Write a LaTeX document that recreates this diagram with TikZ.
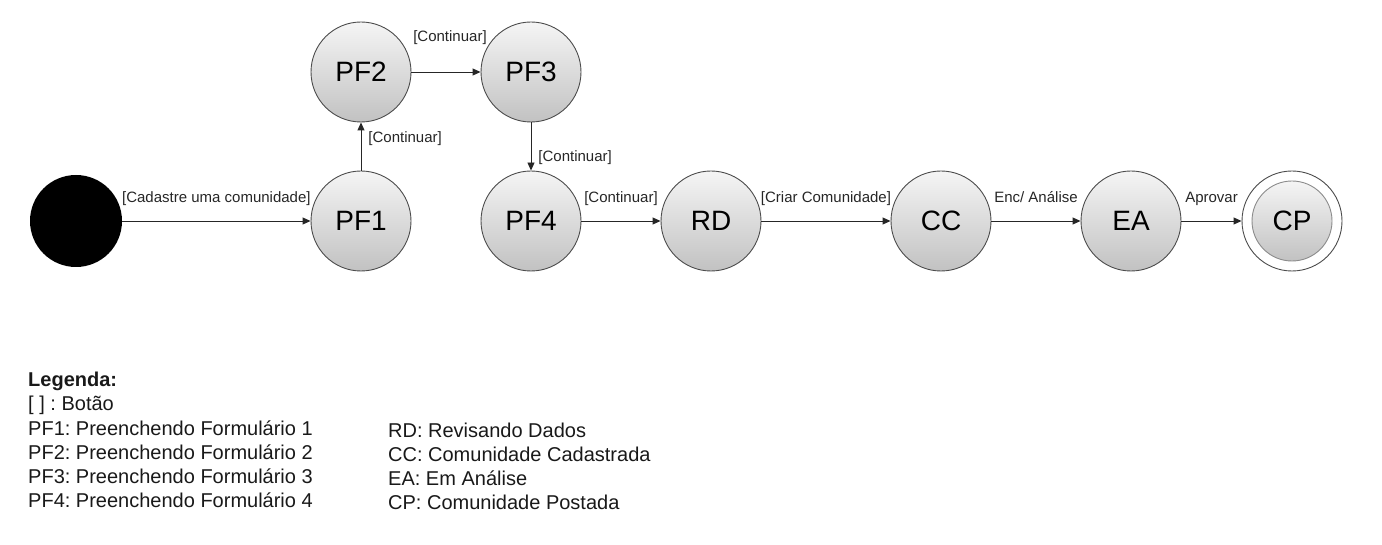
\documentclass[tikz,border=0pt]{standalone}
\usepackage{fontspec}
\setmainfont{Liberation Sans}
\usetikzlibrary{arrows.meta}
\frenchspacing
\begin{document}
\begin{tikzpicture}[x=1pt,y=-1pt,
  state/.style={circle, draw=black!70, line width=0.9pt, minimum size=100pt, inner sep=0pt,
    top color=gray!8, bottom color=gray!48, font=\fontsize{28}{30}\selectfont},
  startnode/.style={circle, fill=black, minimum size=92pt, inner sep=0pt},
  edge/.style={draw=black!85, line width=0.9pt, -{Triangle[length=8pt,width=7pt]}},
  elabel/.style={font=\fontsize{15}{16}\selectfont, inner sep=0pt, text=black!85},
  legend/.style={font=\fontsize{20}{22}\selectfont, anchor=base west, inner sep=0pt, text=black!90}
]
\useasboundingbox (0,0) rectangle (1382,545);

\node[startnode] (s) at (76,221) {};
\node[state] (pf1) at (361,221) {PF1};
\node[state] (pf2) at (361,72) {PF2};
\node[state] (pf3) at (531,72) {PF3};
\node[state] (pf4) at (531,221) {PF4};
\node[state] (rd) at (711,221) {RD};
\node[state] (cc) at (941,221) {CC};
\node[state] (ea) at (1131,221) {EA};
\node[circle, draw=black!70, line width=0.9pt, fill=white, minimum size=100pt, inner sep=0pt] (cpo) at (1292,221) {};
\node[state, minimum size=80pt, draw=black!45] (cp) at (1292,221) {CP};

\draw[edge] (s) -- (pf1) node[elabel, midway, anchor=base, yshift=18pt] {[Cadastre uma comunidade]};
\draw[edge] (pf1) -- (pf2) node[elabel, pos=0.59, anchor=base west, xshift=7pt] {[Continuar]};
\draw[edge] (pf2) -- (pf3) node[elabel, midway, anchor=base, yshift=30pt, xshift=4pt] {[Continuar]};
\draw[edge] (pf3) -- (pf4) node[elabel, pos=0.82, anchor=base west, xshift=7pt] {[Continuar]};
\draw[edge] (pf4) -- (rd) node[elabel, midway, anchor=base, yshift=18pt] {[Continuar]};
\draw[edge] (rd) -- (cc) node[elabel, midway, anchor=base, yshift=18pt] {[Criar Comunidade]};
\draw[edge] (cc) -- (ea) node[elabel, midway, anchor=base, yshift=18pt] {Enc/ Análise};
\draw[edge] (ea) -- (cpo) node[elabel, midway, anchor=base, yshift=18pt] {Aprovar};

\node[legend, font=\fontsize{20}{22}\selectfont\bfseries] (lg) at (28,387) {Legenda:};
\node[legend] (l0) at (28,410) {[ ] : Botão};
\node[legend] (l1) at (28,435) {PF1: Preenchendo Formulário 1};
\node[legend] (l2) at (28,459) {PF2: Preenchendo Formulário 2};
\node[legend] (l3) at (28,483) {PF3: Preenchendo Formulário 3};
\node[legend] (l4) at (28,507) {PF4: Preenchendo Formulário 4};
\node[legend] (r1) at (388,437) {RD: Revisando Dados};
\node[legend] (r2) at (388,461) {CC: Comunidade Cadastrada};
\node[legend] (r3) at (388,485) {EA: Em Análise};
\node[legend] (r4) at (388,509) {CP: Comunidade Postada};
\end{tikzpicture}
\end{document}
